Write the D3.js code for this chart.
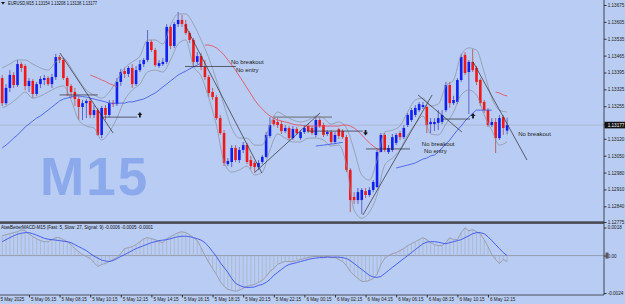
<!DOCTYPE html>
<html lang="en">
<head>
    <meta charset="UTF-8">
    <title>EURUSD M15</title>
    <script src="https://d3js.org/d3.v7.min.js"></script>
    <style>
        html, body { margin: 0; padding: 0; background: #b8ccf4; }
        svg { display: block; }
    </style>
</head>
<body>
<svg width="625" height="304"></svg>
<script>
// candles, bar 0 = 5 May 04:30, one bar every 15 min
const opens = [
    1.13372, 1.13268, 1.13331, 1.13385, 1.13343, 1.13430, 1.13422, 1.13339, 1.13360, 1.13306,
    1.13347, 1.13364, 1.13372, 1.13347, 1.13376, 1.13459, 1.13447, 1.13372, 1.13339, 1.13314,
    1.13285, 1.13252, 1.13268, 1.13277, 1.13219, 1.13239, 1.13136, 1.13248, 1.13219, 1.13268,
    1.13264, 1.13356, 1.13401, 1.13389, 1.13414, 1.13347, 1.13405, 1.13430, 1.13447, 1.13522,
    1.13488, 1.13422, 1.13430, 1.13439, 1.13584, 1.13505, 1.13596, 1.13613, 1.13596, 1.13559,
    1.13530, 1.13439, 1.13463, 1.13418, 1.13376, 1.13314, 1.13293, 1.13206, 1.13144, 1.13015,
    1.13024, 1.13082, 1.13032, 1.13074, 1.13094, 1.13032, 1.13020, 1.13003, 1.13024, 1.13045,
    1.13132, 1.13198, 1.13190, 1.13181, 1.13152, 1.13165, 1.13123, 1.13161, 1.13123, 1.13148,
    1.13173, 1.13165, 1.13136, 1.13198, 1.13177, 1.13140, 1.13148, 1.13107, 1.13160, 1.13152,
    1.13127, 1.12991, 1.12879, 1.12866, 1.12866, 1.12903, 1.12887, 1.12908, 1.12920, 1.13065,
    1.13136, 1.13065, 1.13074, 1.13103, 1.13144, 1.13127, 1.13177, 1.13198, 1.13219, 1.13239,
    1.13252, 1.13252, 1.13181, 1.13181, 1.13186, 1.13190, 1.13239, 1.13343, 1.13268, 1.13273,
    1.13364, 1.13468, 1.13397, 1.13439, 1.13414, 1.13364, 1.13273, 1.13239, 1.13177, 1.13190,
    1.13123, 1.13210, 1.13154
];
const highs = [
    1.13385, 1.13347, 1.13405, 1.13397, 1.13447, 1.13439, 1.13430, 1.13372, 1.13368, 1.13356,
    1.13380, 1.13385, 1.13380, 1.13389, 1.13472, 1.13468, 1.13455, 1.13380, 1.13347, 1.13331,
    1.13298, 1.13281, 1.13285, 1.13289, 1.13260, 1.13248, 1.13256, 1.13260, 1.13281, 1.13281,
    1.13372, 1.13410, 1.13414, 1.13422, 1.13430, 1.13422, 1.13447, 1.13455, 1.13571, 1.13530,
    1.13497, 1.13447, 1.13455, 1.13596, 1.13592, 1.13604, 1.13646, 1.13634, 1.13613, 1.13567,
    1.13538, 1.13480, 1.13476, 1.13447, 1.13385, 1.13331, 1.13302, 1.13219, 1.13156, 1.13040,
    1.13094, 1.13094, 1.13086, 1.13107, 1.13103, 1.13049, 1.13028, 1.13032, 1.13053, 1.13148,
    1.13210, 1.13215, 1.13206, 1.13194, 1.13177, 1.13173, 1.13173, 1.13169, 1.13156, 1.13177,
    1.13181, 1.13173, 1.13206, 1.13206, 1.13186, 1.13156, 1.13156, 1.13148, 1.13165, 1.13160,
    1.13136, 1.12999, 1.12899, 1.12916, 1.12916, 1.12916, 1.12920, 1.12949, 1.13074, 1.13144,
    1.13144, 1.13094, 1.13140, 1.13144, 1.13152, 1.13177, 1.13227, 1.13248, 1.13260, 1.13273,
    1.13273, 1.13260, 1.13206, 1.13206, 1.13239, 1.13239, 1.13356, 1.13356, 1.13298, 1.13372,
    1.13472, 1.13480, 1.13447, 1.13492, 1.13422, 1.13372, 1.13281, 1.13248, 1.13206, 1.13206,
    1.13219, 1.13219, 1.13208
];
const lows = [
    1.13256, 1.13260, 1.13314, 1.13331, 1.13335, 1.13397, 1.13322, 1.13314, 1.13289, 1.13298,
    1.13331, 1.13343, 1.13339, 1.13331, 1.13364, 1.13434, 1.13364, 1.13298, 1.13289, 1.13256,
    1.13198, 1.13198, 1.13206, 1.13206, 1.13206, 1.13132, 1.13123, 1.13198, 1.13210, 1.13252,
    1.13256, 1.13339, 1.13372, 1.13376, 1.13331, 1.13339, 1.13397, 1.13418, 1.13439, 1.13480,
    1.13418, 1.13414, 1.13422, 1.13430, 1.13492, 1.13497, 1.13584, 1.13584, 1.13551, 1.13517,
    1.13422, 1.13430, 1.13405, 1.13364, 1.13293, 1.13281, 1.13198, 1.13136, 1.13007, 1.13007,
    1.13003, 1.13024, 1.13020, 1.13061, 1.13015, 1.12995, 1.12978, 1.12991, 1.13015, 1.13040,
    1.13123, 1.13173, 1.13165, 1.13140, 1.13144, 1.13115, 1.13115, 1.13136, 1.13115, 1.13140,
    1.13144, 1.13136, 1.13127, 1.13165, 1.13127, 1.13132, 1.13098, 1.13098, 1.13119, 1.13119,
    1.12982, 1.12816, 1.12850, 1.12850, 1.12808, 1.12874, 1.12879, 1.12899, 1.12916, 1.13065,
    1.13065, 1.13057, 1.13065, 1.13094, 1.13115, 1.13119, 1.13169, 1.13190, 1.13210, 1.13231,
    1.13244, 1.13144, 1.13144, 1.13152, 1.13156, 1.13181, 1.13231, 1.13248, 1.13260, 1.13264,
    1.13356, 1.13385, 1.13223, 1.13397, 1.13343, 1.13256, 1.13227, 1.13169, 1.13169, 1.13061,
    1.13115, 1.13136, 1.13138
];
const closes = [
    1.13268, 1.13331, 1.13385, 1.13343, 1.13430, 1.13414, 1.13339, 1.13360, 1.13306, 1.13347,
    1.13368, 1.13372, 1.13347, 1.13376, 1.13459, 1.13447, 1.13372, 1.13339, 1.13314, 1.13285,
    1.13252, 1.13268, 1.13277, 1.13219, 1.13239, 1.13136, 1.13248, 1.13219, 1.13268, 1.13264,
    1.13356, 1.13397, 1.13389, 1.13414, 1.13347, 1.13405, 1.13430, 1.13447, 1.13522, 1.13488,
    1.13426, 1.13434, 1.13439, 1.13584, 1.13505, 1.13596, 1.13613, 1.13596, 1.13559, 1.13530,
    1.13439, 1.13463, 1.13418, 1.13376, 1.13310, 1.13293, 1.13206, 1.13144, 1.13020, 1.13028,
    1.13082, 1.13032, 1.13074, 1.13094, 1.13024, 1.13007, 1.13003, 1.13020, 1.13045, 1.13136,
    1.13177, 1.13181, 1.13177, 1.13152, 1.13165, 1.13123, 1.13161, 1.13144, 1.13148, 1.13165,
    1.13152, 1.13144, 1.13198, 1.13173, 1.13136, 1.13148, 1.13107, 1.13136, 1.13132, 1.13127,
    1.12991, 1.12866, 1.12866, 1.12899, 1.12908, 1.12887, 1.12908, 1.12941, 1.13065, 1.13136,
    1.13074, 1.13082, 1.13127, 1.13136, 1.13127, 1.13165, 1.13219, 1.13239, 1.13248, 1.13264,
    1.13260, 1.13177, 1.13190, 1.13190, 1.13206, 1.13219, 1.13343, 1.13268, 1.13281, 1.13364,
    1.13459, 1.13393, 1.13439, 1.13405, 1.13356, 1.13268, 1.13239, 1.13177, 1.13190, 1.13123,
    1.13206, 1.13165, 1.13177
];

// gray envelope, one value every 2 bars
const bandStep = 2;
const bandUpper = [
    1.13414, 1.13430, 1.13447, 1.13447, 1.13430, 1.13414, 1.13405, 1.13439, 1.13455, 1.13414,
    1.13364, 1.13322, 1.13302, 1.13289, 1.13314, 1.13364, 1.13414, 1.13439, 1.13463, 1.13530,
    1.13530, 1.13513, 1.13592, 1.13638, 1.13638, 1.13596, 1.13530, 1.13455, 1.13364, 1.13260,
    1.13165, 1.13123, 1.13123, 1.13094, 1.13094, 1.13177, 1.13231, 1.13215, 1.13198, 1.13190,
    1.13198, 1.13215, 1.13206, 1.13181, 1.13190, 1.13165, 1.13074, 1.12970, 1.12949, 1.13032,
    1.13148, 1.13156, 1.13173, 1.13231, 1.13281, 1.13289, 1.13256, 1.13264, 1.13339, 1.13364,
    1.13468, 1.13497, 1.13488, 1.13397, 1.13289, 1.13239, 1.13231
];
const bandLower = [
    1.13248, 1.13264, 1.13289, 1.13314, 1.13289, 1.13298, 1.13314, 1.13331, 1.13339, 1.13281,
    1.13198, 1.13173, 1.13165, 1.13115, 1.13148, 1.13206, 1.13281, 1.13322, 1.13347, 1.13397,
    1.13405, 1.13397, 1.13447, 1.13513, 1.13530, 1.13422, 1.13380, 1.13289, 1.13177, 1.13024,
    1.12982, 1.12991, 1.13007, 1.12970, 1.12982, 1.13074, 1.13140, 1.13123, 1.13107, 1.13107,
    1.13123, 1.13123, 1.13115, 1.13090, 1.13094, 1.13011, 1.12825, 1.12791, 1.12816, 1.12887,
    1.13011, 1.13040, 1.13074, 1.13136, 1.13181, 1.13215, 1.13140, 1.13136, 1.13181, 1.13231,
    1.13302, 1.13322, 1.13302, 1.13219, 1.13156, 1.13094, 1.13107
];

// coloured MA: [first bar, values...]
const redSegments = [
    [23, [1.13385, 1.13378, 1.13372, 1.13364, 1.13358, 1.13349, 1.13343, 1.13335]],
    [53, [1.13509, 1.13509, 1.13505, 1.13497, 1.13484, 1.13468, 1.13447, 1.13426, 1.13405, 1.13380,
          1.13356, 1.13331, 1.13306, 1.13281, 1.13260, 1.13244, 1.13227, 1.13215, 1.13206, 1.13198,
          1.13194, 1.13190, 1.13186, 1.13181, 1.13177, 1.13177, 1.13173, 1.13173, 1.13173, 1.13173,
          1.13173, 1.13173, 1.13173, 1.13173, 1.13173, 1.13173, 1.13177, 1.13177, 1.13173, 1.13165,
          1.13152, 1.13136, 1.13119, 1.13103, 1.13090, 1.13078, 1.13069]],
    [129, [1.13314, 1.13310, 1.13302, 1.13298]]
];
const blueSegments = [
    [0, [1.13082, 1.13094, 1.13107, 1.13123, 1.13136, 1.13152, 1.13169, 1.13181, 1.13194, 1.13206,
         1.13215, 1.13227, 1.13239, 1.13252, 1.13264, 1.13277, 1.13285, 1.13289, 1.13293, 1.13298,
         1.13298, 1.13295, 1.13293, 1.13289, 1.13285, 1.13281, 1.13277, 1.13273, 1.13268, 1.13268,
         1.13268, 1.13268, 1.13268, 1.13273, 1.13273, 1.13277, 1.13281, 1.13285, 1.13293, 1.13302,
         1.13310, 1.13322, 1.13335, 1.13347, 1.13360, 1.13372, 1.13385, 1.13393, 1.13401, 1.13410,
         1.13418, 1.13426, 1.13434]],
    [82, [1.13090, 1.13092, 1.13094, 1.13096, 1.13098, 1.13100, 1.13103, 1.13105]],
    [103, [1.12999, 1.13003, 1.13007, 1.13011, 1.13015, 1.13020, 1.13028, 1.13036, 1.13040, 1.13049,
           1.13053, 1.13065, 1.13082, 1.13098, 1.13115, 1.13136, 1.13156, 1.13173, 1.13194, 1.13210,
           1.13227, 1.13239, 1.13239, 1.13239, 1.13239, 1.13239]]
];

// MACD subwindow
const macdMain = [
    0.00127, 0.00134, 0.00140, 0.00147, 0.00153, 0.00166, 0.00159, 0.00140, 0.00121, 0.00108,
    0.00096, 0.00089, 0.00089, 0.00102, 0.00115, 0.00115, 0.00102, 0.00089, 0.00070, 0.00045,
    0.00025, 0.00006, -0.00006, -0.00019, -0.00045, -0.00070, -0.00057, -0.00051, -0.00038, -0.00025,
    -0.00013, 0.00013, 0.00045, 0.00051, 0.00057, 0.00070, 0.00089, 0.00108, 0.00115, 0.00108,
    0.00102, 0.00089, 0.00083, 0.00108, 0.00121, 0.00134, 0.00147, 0.00153, 0.00147, 0.00134,
    0.00115, 0.00096, 0.00051, 0.00000, -0.00045, -0.00083, -0.00121, -0.00166, -0.00197, -0.00217,
    -0.00223, -0.00229, -0.00223, -0.00210, -0.00197, -0.00191, -0.00185, -0.00172, -0.00159, -0.00134,
    -0.00102, -0.00083, -0.00057, -0.00045, -0.00038, -0.00038, -0.00038, -0.00032, -0.00025, -0.00019,
    -0.00013, -0.00006, -0.00006, -0.00006, -0.00006, -0.00006, -0.00013, -0.00013, -0.00025, -0.00038,
    -0.00064, -0.00102, -0.00127, -0.00147, -0.00166, -0.00166, -0.00159, -0.00147, -0.00121, -0.00057,
    -0.00019, 0.00000, 0.00013, 0.00019, 0.00032, 0.00045, 0.00064, 0.00076, 0.00089, 0.00102,
    0.00115, 0.00102, 0.00083, 0.00070, 0.00064, 0.00064, 0.00083, 0.00115, 0.00102, 0.00102,
    0.00147, 0.00178, 0.00159, 0.00166, 0.00153, 0.00140, 0.00102, 0.00057, 0.00006, -0.00025,
    -0.00051, -0.00025, -0.00038
];
const macdSignal = [
    0.00089, 0.00102, 0.00115, 0.00127, 0.00137, 0.00143, 0.00147, 0.00147, 0.00140, 0.00131,
    0.00121, 0.00111, 0.00105, 0.00102, 0.00099, 0.00096, 0.00092, 0.00089, 0.00083, 0.00070,
    0.00057, 0.00045, 0.00032, 0.00013, -0.00003, -0.00016, -0.00029, -0.00035, -0.00038, -0.00032,
    -0.00019, -0.00006, 0.00006, 0.00019, 0.00032, 0.00045, 0.00054, 0.00064, 0.00073, 0.00083,
    0.00089, 0.00096, 0.00099, 0.00102, 0.00108, 0.00115, 0.00121, 0.00124, 0.00124, 0.00121,
    0.00115, 0.00108, 0.00099, 0.00083, 0.00057, 0.00025, -0.00006, -0.00045, -0.00076, -0.00108,
    -0.00147, -0.00178, -0.00191, -0.00201, -0.00204, -0.00204, -0.00201, -0.00191, -0.00185, -0.00172,
    -0.00153, -0.00127, -0.00108, -0.00089, -0.00070, -0.00057, -0.00051, -0.00045, -0.00038, -0.00032,
    -0.00025, -0.00019, -0.00016, -0.00013, -0.00013, -0.00010, -0.00010, -0.00010, -0.00010, -0.00013,
    -0.00019, -0.00032, -0.00051, -0.00070, -0.00089, -0.00108, -0.00127, -0.00137, -0.00140, -0.00134,
    -0.00115, -0.00096, -0.00076, -0.00057, -0.00038, -0.00019, 0.00000, 0.00019, 0.00038, 0.00057,
    0.00076, 0.00086, 0.00089, 0.00089, 0.00086, 0.00080, 0.00076, 0.00083, 0.00089, 0.00096,
    0.00102, 0.00115, 0.00127, 0.00140, 0.00147, 0.00147, 0.00140, 0.00121, 0.00096, 0.00070,
    0.00045, 0.00019, 0.00000
];

// chart objects: [bar1, price1, bar2, price2]
const trendLines = [
    [15, 1.13302, 25, 1.13302],
    [26, 1.13210, 35.3, 1.13210],
    [15.1, 1.13476, 29, 1.13144],
    [47.8, 1.13420, 61.1, 1.13420],
    [47.8, 1.13592, 67.9, 1.12978],
    [66.1, 1.12982, 83.1, 1.13227],
    [79.7, 1.13152, 94.3, 1.13152],
    [95.1, 1.13078, 106.6, 1.13078],
    [94.3, 1.12804, 112.4, 1.13302],
    [108.7, 1.13302, 120.2, 1.13148],
    [115.2, 1.13202, 122.3, 1.13202],
    [123.1, 1.13439, 137.2, 1.13032]
];
const grayLevel = [70.8, 1.13210, 86.2, 1.13210];
const arrows = [
    {i: 36, p: 1.13219, dir: 'up'},
    {i: 95, p: 1.13146, dir: 'down'},
    {i: 123.1, p: 1.13215, dir: 'up'}
];
const notes = [
    {i: 59.8, p: 1.13430, text: 'No breakout'},
    {i: 61.1, p: 1.13397, text: 'No entry'},
    {i: 109.7, p: 1.13090, text: 'No breakout'},
    {i: 110.3, p: 1.13061, text: 'No entry'},
    {i: 134.9, p: 1.13132, text: 'No breakout'}
];

// axis labels
const priceTicks = [1.13675, 1.13605, 1.13535, 1.13465, 1.13395, 1.13325, 1.13255,
                    1.13180, 1.13120, 1.13050, 1.12980, 1.12910, 1.12840, 1.12775];
const macdTicks = [0.0018, 0, -0.0024];
const macdTickLabels = ['0.0018', '0.00', '-0.0024'];
const timeBars = [-1, 7, 15, 23, 31, 39, 47, 55, 63, 71, 79, 87, 95, 103, 111, 119, 127];
const timeLabels = ['5 May 2025', '5 May 06:15', '5 May 08:15', '5 May 10:15', '5 May 12:15',
    '5 May 14:15', '5 May 16:15', '5 May 18:15', '5 May 20:15', '5 May 22:15', '6 May 00:15',
    '6 May 02:15', '6 May 04:15', '6 May 06:15', '6 May 08:15', '6 May 10:15', '6 May 12:15'];

const FONT = '"Liberation Sans", Arial, sans-serif';
const W = 625, H = 304, axisX = 604;
const mainBottom = 221, macdTop = 224, macdBottom = 295;
const bodyW = 2.6;

const svg = d3.select('svg');
svg.append('rect').attr('width', W).attr('height', H).attr('fill', '#b8ccf4');

const x = d3.scaleLinear().domain([0, 132]).range([2.2, 507.1]);
const y = d3.scaleLinear().domain([1.12775, 1.13675]).range([222, 5]);
const ym = d3.scaleLinear().domain([-0.0024, 0.0018]).range([293, 227.5]);

const defs = svg.append('defs');
defs.append('clipPath').attr('id', 'clipMain').append('rect')
    .attr('x', 0).attr('y', 0).attr('width', axisX).attr('height', mainBottom);
defs.append('clipPath').attr('id', 'clipMacd').append('rect')
    .attr('x', 0).attr('y', macdTop).attr('width', axisX).attr('height', macdBottom - macdTop);

const main = svg.append('g').attr('clip-path', 'url(#clipMain)');

// watermark
main.append('text')
    .attr('x', 40).attr('y', 195)
    .attr('font-family', FONT).attr('font-weight', 'bold')
    .attr('font-size', 53).attr('letter-spacing', 2)
    .attr('fill', '#8caaeb')
    .text('M15');

// bid line
main.append('line')
    .attr('x1', 0).attr('x2', axisX)
    .attr('y1', y(closes[closes.length - 1])).attr('y2', y(closes[closes.length - 1]))
    .attr('stroke', '#a3afc8').attr('stroke-width', 0.7);

const bars = opens.map((o, i) => ({i, o, h: highs[i], l: lows[i], c: closes[i]}));

const cg = main.append('g');
cg.selectAll('line').data(bars).join('line')
    .attr('x1', d => x(d.i)).attr('x2', d => x(d.i))
    .attr('y1', d => y(d.h)).attr('y2', d => y(d.l))
    .attr('stroke', d => d.c >= d.o ? '#5858c8' : '#b85a5a')
    .attr('stroke-width', 0.9);
cg.selectAll('rect').data(bars).join('rect')
    .attr('x', d => x(d.i) - bodyW / 2).attr('width', bodyW)
    .attr('y', d => y(Math.max(d.o, d.c)))
    .attr('height', d => Math.max(1, Math.abs(y(d.o) - y(d.c))))
    .attr('fill', d => d.c >= d.o ? '#1020f0' : '#f01818');

// envelope
const bandLine = d3.line().x(d => x(d[0])).y(d => y(d[1])).curve(d3.curveMonotoneX);
[bandUpper, bandLower].forEach(arr => {
    main.append('path')
        .attr('d', bandLine(arr.map((v, k) => [k * bandStep, v])))
        .attr('fill', 'none').attr('stroke', '#8a8f9c').attr('stroke-width', 0.7);
});

// coloured MA
const segLine = d3.line().x(d => x(d[0])).y(d => y(d[1]));
function drawSegments(segs, colour) {
    segs.forEach(([start, vals]) => {
        main.append('path')
            .attr('d', segLine(vals.map((v, k) => [start + k, v])))
            .attr('fill', 'none').attr('stroke', colour).attr('stroke-width', 0.8);
    });
}
drawSegments(redSegments, '#e8485a');
drawSegments(blueSegments, '#3a50e8');

// objects
main.append('line')
    .attr('x1', x(grayLevel[0])).attr('y1', y(grayLevel[1]))
    .attr('x2', x(grayLevel[2])).attr('y2', y(grayLevel[3]))
    .attr('stroke', '#8c94a4').attr('stroke-width', 1.8);
main.selectAll('line.tl').data(trendLines).join('line')
    .attr('class', 'tl')
    .attr('x1', d => x(d[0])).attr('y1', d => y(d[1]))
    .attr('x2', d => x(d[2])).attr('y2', d => y(d[3]))
    .attr('stroke', '#2c2c34').attr('stroke-width', 0.7);

main.selectAll('path.arrow').data(arrows).join('path')
    .attr('class', 'arrow')
    .attr('d', d => {
        const cx = x(d.i), cy = y(d.p), s = d.dir === 'up' ? 1 : -1;
        return `M${cx},${cy - 3 * s} L${cx + 2.4},${cy} L${cx + 0.9},${cy} L${cx + 0.9},${cy + 2.6 * s}` +
               ` L${cx - 0.9},${cy + 2.6 * s} L${cx - 0.9},${cy} L${cx - 2.4},${cy} Z`;
    })
    .attr('fill', '#1a1a1a');

main.selectAll('text.note').data(notes).join('text')
    .attr('class', 'note')
    .attr('x', d => x(d.i)).attr('y', d => y(d.p))
    .attr('font-family', FONT).attr('font-size', 6).attr('fill', '#222')
    .text(d => d.text);

// title
svg.append('path').attr('d', 'M1,2 L5,2 L3,4.5 Z').attr('fill', '#111');
svg.append('text').attr('x', 8).attr('y', 5.3)
    .attr('font-family', FONT).attr('font-size', 4.6).attr('fill', '#111')
    .attr('textLength', 89).attr('lengthAdjust', 'spacingAndGlyphs')
    .text('EURUSD,M15  1.13154 1.13208 1.13138 1.13177');

// panel separator
svg.append('rect').attr('x', 0).attr('y', 221.3).attr('width', axisX).attr('height', 2.6).attr('fill', '#4a4a52');

// MACD
const sub = svg.append('g').attr('clip-path', 'url(#clipMacd)');
sub.append('line').attr('x1', 0).attr('x2', axisX).attr('y1', ym(0)).attr('y2', ym(0))
    .attr('stroke', '#8e939e').attr('stroke-width', 0.8);
sub.selectAll('line.hist').data(macdMain).join('line')
    .attr('class', 'hist')
    .attr('x1', (d, i) => x(i)).attr('x2', (d, i) => x(i))
    .attr('y1', ym(0)).attr('y2', d => ym(d))
    .attr('stroke', '#a4abbb').attr('stroke-width', 0.6);
const macdLine = d3.line().x((d, i) => x(i)).y(d => ym(d));
sub.append('path').attr('d', macdLine(macdMain))
    .attr('fill', 'none').attr('stroke', '#979aa3').attr('stroke-width', 0.9);
sub.append('path').attr('d', macdLine(macdSignal))
    .attr('fill', 'none').attr('stroke', '#3c52ec').attr('stroke-width', 0.9);

svg.append('text').attr('x', 1).attr('y', 229.2)
    .attr('font-family', FONT).attr('font-size', 4.6).attr('fill', '#111')
    .attr('textLength', 152).attr('lengthAdjust', 'spacingAndGlyphs')
    .text('AtasBetterMACD-M15 (Fast: 5, Slow: 27, Signal: 9) -0.0006 -0.0005 -0.0001');

// bottom border
svg.append('line').attr('x1', 0).attr('x2', axisX).attr('y1', macdBottom).attr('y2', macdBottom)
    .attr('stroke', '#33343a').attr('stroke-width', 0.8);

// right price axis
const axR = svg.append('g').attr('transform', `translate(${axisX},0)`)
    .call(d3.axisRight(y).tickValues(priceTicks).tickSize(2.5).tickPadding(1.2)
        .tickFormat(d3.format('.5f')));
axR.select('.domain').remove();
axR.attr('font-size', 4.6).attr('font-family', FONT);
axR.selectAll('line').attr('stroke', '#333');
axR.selectAll('text').attr('fill', '#222');

const axM = svg.append('g').attr('transform', `translate(${axisX},0)`)
    .call(d3.axisRight(ym).tickValues(macdTicks).tickSize(2.5).tickPadding(1.2)
        .tickFormat((d, k) => macdTickLabels[k]));
axM.select('.domain').remove();
axM.attr('font-size', 4.6).attr('font-family', FONT);
axM.selectAll('line').attr('stroke', '#333');
axM.selectAll('text').attr('fill', '#222');
svg.append('rect').attr('x', axisX + 1.5).attr('y', ym(0) - 3).attr('width', 3).attr('height', 6).attr('fill', '#5a5a60');

svg.append('line').attr('x1', axisX).attr('x2', axisX).attr('y1', 0).attr('y2', macdBottom)
    .attr('stroke', '#33343a').attr('stroke-width', 0.9);

// last price tag
const lastY = y(closes[closes.length - 1]);
svg.append('rect').attr('x', axisX + 0.5).attr('y', lastY - 3.3).attr('width', 21).attr('height', 6.6).attr('fill', '#111');
svg.append('text').attr('x', axisX + 3.7).attr('y', lastY + 1.6)
    .attr('font-family', FONT).attr('font-size', 4.6).attr('fill', '#fff')
    .text(d3.format('.5f')(closes[closes.length - 1]));

// time axis
const axB = svg.append('g').attr('transform', `translate(0,${macdBottom})`)
    .call(d3.axisBottom(x).tickValues(timeBars).tickSize(2.5)
        .tickFormat((d, k) => timeLabels[k]));
axB.select('.domain').remove();
axB.attr('font-size', 4.6).attr('font-family', FONT);
axB.selectAll('line').attr('stroke', '#333');
axB.selectAll('text').attr('text-anchor', 'start').attr('x', 1.5).attr('y', 6.3).attr('dy', 0).attr('fill', '#222');
</script>
</body>
</html>
